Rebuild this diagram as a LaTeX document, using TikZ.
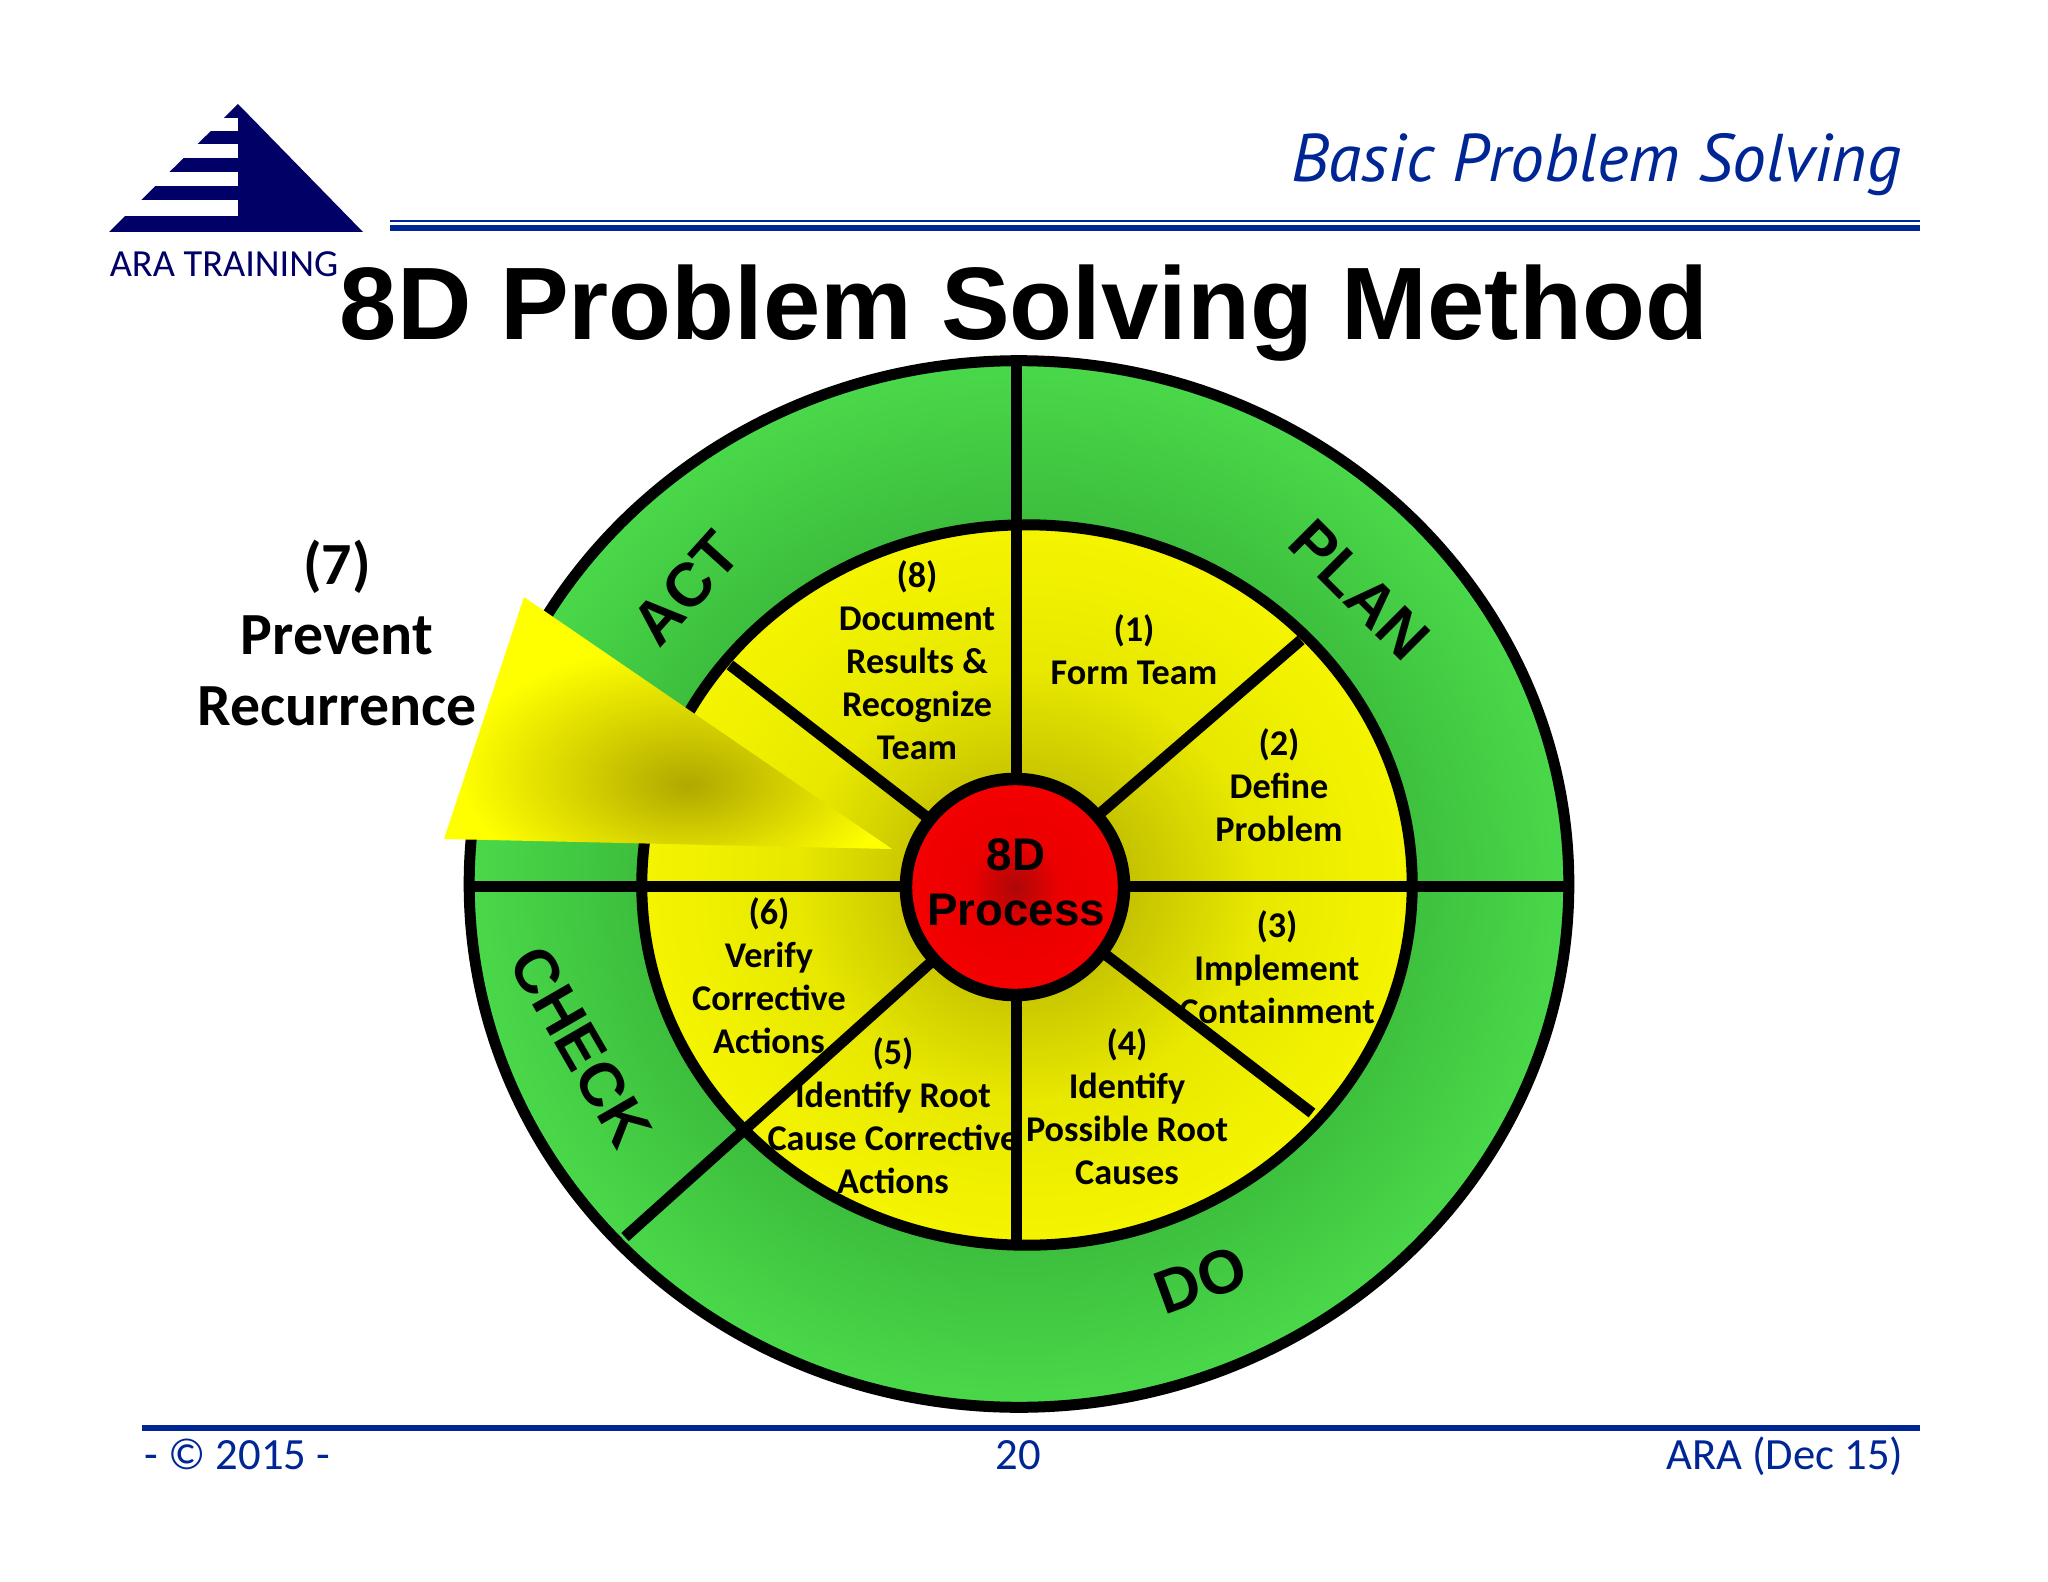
\documentclass[tikz,border=0pt]{standalone}
\usepackage{fontspec}
\setmainfont{Carlito}
\newfontfamily\arialfont{Liberation Sans}
\newfontfamily\headfont{PT Sans}
\usetikzlibrary{shapes.geometric}
\definecolor{logonavy}{RGB}{0,0,102}
\definecolor{rulecolor}{RGB}{0,38,150}
\definecolor{greenmid}{rgb}{0.18,0.62,0.18}
\definecolor{greenin}{rgb}{0.24,0.75,0.24}
\definecolor{greenout}{rgb}{0.29,0.85,0.29}
\definecolor{yellowmid}{rgb}{0.66,0.63,0}
\definecolor{yellowa}{rgb}{0.78,0.77,0}
\definecolor{yellowb}{rgb}{0.91,0.91,0}
\definecolor{yellowout}{rgb}{0.96,0.96,0}
\definecolor{redmid}{rgb}{0.68,0.03,0.03}
\definecolor{reda}{rgb}{0.92,0,0}
\definecolor{redout}{rgb}{0.96,0,0}
\definecolor{wedgemid}{rgb}{0.69,0.66,0}
\definecolor{wedgeout}{rgb}{1,1,0}
\pgfdeclareradialshading{ringshade}{\pgfpoint{0bp}{0bp}}{color(0bp)=(greenmid); color(17.5bp)=(greenin); color(25bp)=(greenout); color(50bp)=(greenout)}
\pgfdeclareradialshading{stepshade}{\pgfpoint{0bp}{0bp}}{color(0bp)=(yellowmid); color(7bp)=(yellowa); color(15bp)=(yellowb); color(25bp)=(yellowout); color(50bp)=(yellowout)}
\pgfdeclareradialshading{hubshade}{\pgfpoint{0bp}{0bp}}{color(0bp)=(redmid); color(10bp)=(reda); color(25bp)=(redout); color(50bp)=(redout)}
\pgfdeclareradialshading{wedgeshade}{\pgfpoint{2.25bp}{-12.5bp}}{color(0bp)=(wedgemid); color(25bp)=(wedgeout); color(100bp)=(wedgeout)}
\tikzstyle{outerring} = [ellipse, draw=black, line width=0.11cm, inner sep=0pt, outer sep=0pt, minimum width=10.99cm, minimum height=10.46cm, shading=ringshade]
\tikzstyle{innerring} = [ellipse, draw=black, line width=0.11cm, inner sep=0pt, outer sep=0pt, minimum width=7.70cm, minimum height=7.20cm, shading=stepshade]
\tikzstyle{hubdisc} = [ellipse, draw=black, line width=0.125cm, inner sep=0pt, outer sep=0pt, minimum width=2.18cm, minimum height=2.16cm, shading=hubshade]
\tikzstyle{spoke} = [line width=0.11cm, draw=black]
\tikzstyle{steplabel} = [align=center, font=\fontsize{10.3}{12.2}\selectfont\bfseries]
\tikzstyle{phase} = [font=\fontsize{17.5}{20}\selectfont\arialfont\bfseries]
\tikzstyle{footer} = [text=rulecolor, anchor=base, inner sep=0pt, font=\fontsize{12.7}{15}\selectfont]

\begin{document}
\begin{tikzpicture}[x=0.01cm, y=-0.01cm]
        \useasboundingbox (0,0) rectangle (2048,1582);

        \fill [logonavy] (238,104) -- (363,232) -- (109,232) -- cycle;
        \fill [white] (100,118) rectangle (238,131);
        \fill [white] (100,144) rectangle (238,158);
        \fill [white] (100,172) rectangle (238,186);
        \fill [white] (100,200) rectangle (238,216);
        \node (logotext) [text=logonavy, anchor=base, inner sep=0pt, font=\fontsize{10.9}{14}\selectfont] at (224,277) {ARA TRAINING};

        \fill [rulecolor] (390,220) rectangle (1920,222);
        \fill [rulecolor] (390,225) rectangle (1920,231);
        \fill [rulecolor] (142,1425) rectangle (1920,1431);

        \node (header) [text=rulecolor, anchor=base east, inner sep=0pt, font=\fontsize{19.2}{22}\selectfont\headfont\itshape] at (1902,182) {Basic Problem Solving};
        \node (title) [anchor=base, inner sep=0pt, font=\fontsize{29.3}{33}\selectfont\arialfont\bfseries] at (1024,340) {8D Problem Solving Method};

        \node (outer) [outerring] at (1019,884) {};
        \node (inner) [innerring] at (1027,885) {};
        \coordinate (center) at (1016,886);
        \coordinate (neend) at (1301,640);
        \coordinate (seend) at (1312,1113);
        \coordinate (swend) at (625,1237);
        \coordinate (nwend) at (730,665);

        \draw [spoke] (center |- outer.north) -- (center |- inner.south);
        \draw [spoke] (outer.west |- center) -- (outer.east |- center);
        \draw [spoke] (center) -- (neend);
        \draw [spoke] (center) -- (seend);
        \draw [spoke] (center) -- (swend);
        \draw [spoke] (center) -- (nwend);

        \node (hub) [hubdisc] at (1015,887) {};
        \node (hubtext) [align=center, font=\fontsize{13}{15.6}\selectfont\arialfont\bfseries] at (1016,882) {8D\\Process};

        \coordinate (wedgetop) at (524,597);
        \coordinate (wedgeleft) at (444,839);
        \coordinate (wedgetip) at (892,849);
        \path [shading=wedgeshade] (wedgetop) -- (wedgeleft) -- (wedgetip) -- cycle;

        \node (plan) [phase, rotate=-45] at (1360,590) {PLAN};
        \node (act) [phase, rotate=48] at (686,588) {ACT};
        \node (check) [phase, rotate=-60] at (581,1047) {CHECK};
        \node (do) [phase, rotate=20] at (1201,1280) {DO};

        \node (stepone) [steplabel] at (1134,650) {(1)\\Form Team};
        \node (steptwo) [steplabel] at (1279,785) {(2)\\Define\\Problem};
        \node (stepthree) [steplabel] at (1277,967) {(3)\\Implement\\Containment};
        \node (stepfour) [steplabel] at (1127,1107) {(4)\\Identify\\Possible Root\\Causes};
        \node (stepfive) [steplabel] at (893,1116) {(5)\\Identify Root\\Cause Corrective\\Actions};
        \node (stepsix) [steplabel] at (769,976) {(6)\\Verify\\Corrective\\Actions};
        \node (stepseven) [align=center, font=\fontsize{17}{20}\selectfont\bfseries] at (337,633) {(7)\\Prevent\\Recurrence};
        \node (stepeight) [steplabel] at (917,660) {(8)\\Document\\Results \&\\Recognize\\Team};

        \node (copyright) [footer, anchor=base west] at (144,1469) {- © 2015 -};
        \node (pagenum) [footer] at (1018,1469) {20};
        \node (revision) [footer, anchor=base east] at (1904,1469) {ARA (Dec 15)};
    \end{tikzpicture}
\end{document}
